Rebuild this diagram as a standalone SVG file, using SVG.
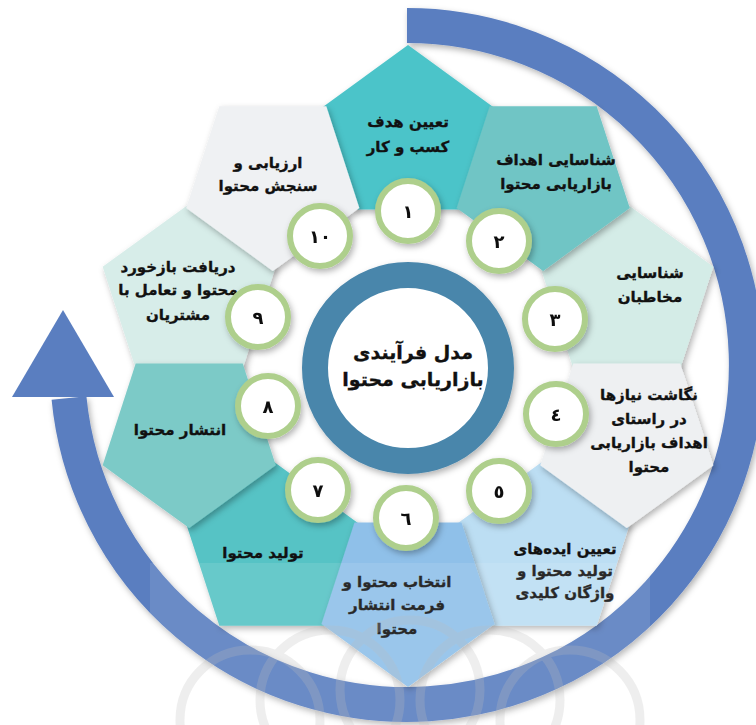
<svg xmlns="http://www.w3.org/2000/svg" width="756" height="725" viewBox="0 0 756 725">
<defs>
<style>
.t{font-family:"DejaVu Sans","Noto Sans",sans-serif;font-weight:bold;font-size:15px;fill:#111;stroke:#111;stroke-width:0.35;text-anchor:middle;direction:rtl}
.c{font-size:19px}
.num{font-family:"DejaVu Sans","Noto Sans",sans-serif;font-weight:bold;font-size:18px;fill:#111;text-anchor:middle}
.circ{fill:#fff;stroke:#aecf8c;stroke-width:6}
.pent{filter:url(#sh)}
</style>
<filter id="sh" x="-30%" y="-30%" width="160%" height="160%">
<feDropShadow dx="2" dy="3" stdDeviation="3" flood-color="#000" flood-opacity="0.3"/>
</filter>
<polygon id="pa" points="0,-91 86.55,-28.12 53.49,73.62 -53.49,73.62 -86.55,-28.12"/>
<polygon id="pb" points="53.49,-73.62 86.55,28.12 0,91 -86.55,28.12 -53.49,-73.62"/>
<clipPath id="wm"><rect x="150" y="563" width="500" height="162"/></clipPath>
</defs>
<rect width="756" height="725" fill="#fff"/>
<g id="connectors">
<path d="M407 25.5 A339.5 339.5 0 1 1 69 398" fill="none" stroke="#5a7ec0" stroke-width="35" filter="url(#sh)"/>
<polygon points="12,397 114,397 63,310" fill="#5a7ec0"/>
</g>
<g id="center" filter="url(#sh)">
<circle cx="408" cy="368" r="93" fill="#fff" stroke="#4a86ab" stroke-width="26"/>
</g>
<g id="center-label">
<text class="t c" x="413" y="359">مدل فرآیندی</text>
<text class="t c" x="413" y="386">بازاریابی محتوا</text>
</g>
<g id="n1" class="pent"><use href="#pa" x="408" y="136" fill="#4cc4c9"/></g>
<g id="n3" class="pent"><use href="#pa" x="626.8" y="294.9" fill="#d4ece7"/></g>
<g id="n5" class="pent"><use href="#pa" x="543.2" y="552.1" fill="#bcdef3"/></g>
<g id="n7" class="pent"><use href="#pa" x="272.8" y="552.1" fill="#56c3c5"/></g>
<g id="n9" class="pent"><use href="#pa" x="189.2" y="294.9" fill="#d7ede9"/></g>
<g id="n2" class="pent"><use href="#pb" x="543.2" y="179.9" fill="#6fc5c5"/></g>
<g id="n4" class="pent"><use href="#pb" x="626.8" y="437.1" fill="#eef0f2"/></g>
<g id="n6" class="pent"><use href="#pb" x="408" y="596" fill="#8fc0e9"/></g>
<g id="n8" class="pent"><use href="#pb" x="189.2" y="437.1" fill="#7ccac7"/></g>
<g id="n10" class="pent"><use href="#pb" x="272.8" y="179.9" fill="#eff1f3"/></g>
<g id="labels">
<text class="t" x="408" y="127">تعیین هدف</text>
<text class="t" x="408" y="152">کسب و کار</text>
<text class="t" x="556" y="165">شناسایی اهداف</text>
<text class="t" x="556" y="189">بازاریابی محتوا</text>
<text class="t" x="650" y="278">شناسایی</text>
<text class="t" x="650" y="302">مخاطبان</text>
<text class="t" x="649" y="400">نگاشت نیازها</text>
<text class="t" x="649" y="424">در راستای</text>
<text class="t" x="649" y="448">اهداف بازاریابی</text>
<text class="t" x="649" y="472">محتوا</text>
<text class="t" x="565" y="554">تعیین ایده‌های</text>
<text class="t" x="565" y="576">تولید محتوا و</text>
<text class="t" x="565" y="598">واژگان کلیدی</text>
<text class="t" x="397" y="587">انتخاب محتوا و</text>
<text class="t" x="397" y="610">فرمت انتشار</text>
<text class="t" x="397" y="634">محتوا</text>
<text class="t" x="263" y="558">تولید محتوا</text>
<text class="t" x="180" y="435">انتشار محتوا</text>
<text class="t" x="178" y="272">دریافت بازخورد</text>
<text class="t" x="178" y="295">محتوا و تعامل با</text>
<text class="t" x="178" y="320">مشتریان</text>
<text class="t" x="268" y="168">ارزیابی و</text>
<text class="t" x="268" y="191">سنجش محتوا</text>
</g>
<g id="c1" filter="url(#sh)"><circle class="circ" cx="408" cy="211" r="30"/><text class="num" x="408" y="218">١</text></g>
<g id="c2" filter="url(#sh)"><circle class="circ" cx="499" cy="241" r="30"/><text class="num" x="499" y="248">٢</text></g>
<g id="c3" filter="url(#sh)"><circle class="circ" cx="555" cy="319" r="30"/><text class="num" x="555" y="326">٣</text></g>
<g id="c4" filter="url(#sh)"><circle class="circ" cx="556" cy="414" r="30"/><text class="num" x="556" y="421">٤</text></g>
<g id="c5" filter="url(#sh)"><circle class="circ" cx="499" cy="491" r="30"/><text class="num" x="499" y="498">٥</text></g>
<g id="c6" filter="url(#sh)"><circle class="circ" cx="406" cy="518" r="30"/><text class="num" x="406" y="525">٦</text></g>
<g id="c7" filter="url(#sh)"><circle class="circ" cx="318" cy="490" r="30"/><text class="num" x="318" y="497">٧</text></g>
<g id="c8" filter="url(#sh)"><circle class="circ" cx="268" cy="406" r="30"/><text class="num" x="268" y="413">٨</text></g>
<g id="c9" filter="url(#sh)"><circle class="circ" cx="258" cy="317" r="30"/><text class="num" x="258" y="324">٩</text></g>
<g id="c10" filter="url(#sh)"><circle class="circ" cx="320" cy="236" r="30"/><text class="num" x="320" y="243">١٠</text></g>
<g id="watermark" clip-path="url(#wm)">
<rect x="150" y="563" width="500" height="162" fill="#fff" opacity="0.1"/>
<g fill="none" stroke="#bdbdbd" stroke-width="9" opacity="0.25">
<circle cx="250" cy="720" r="70"/>
<circle cx="330" cy="700" r="70"/>
<circle cx="410" cy="690" r="70"/>
<circle cx="490" cy="700" r="70"/>
<circle cx="570" cy="720" r="70"/>
</g>
</g>
</svg>
